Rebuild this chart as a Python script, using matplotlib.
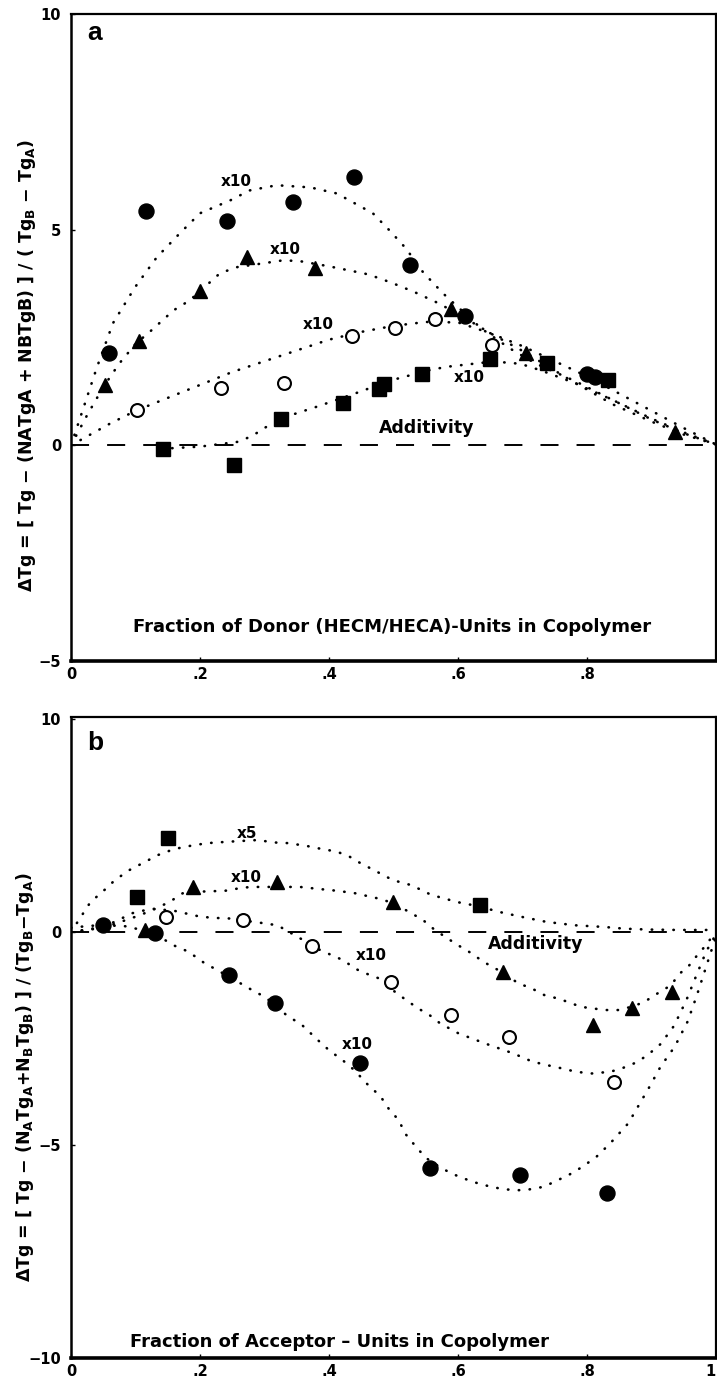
import matplotlib
matplotlib.use("Agg")
import matplotlib.pyplot as plt

plt.rcParams['font.family'] = ['DejaVu Sans']
plt.rcParams['font.weight'] = 'bold'
plt.rcParams['mathtext.fontset'] = 'custom'
plt.rcParams['mathtext.rm'] = 'DejaVu Sans:bold'
plt.rcParams['mathtext.default'] = 'rm'
plt.rcParams['lines.scale_dashes'] = False

# ---------------- Panel a data (fraction of donor units) ----------------
a_filled_x = [0.059, 0.116, 0.242, 0.344, 0.439, 0.526, 0.611, 0.800, 0.812]
a_filled_y = [2.14, 5.43, 5.19, 5.63, 6.21, 4.17, 3.01, 1.66, 1.58]
a_tri_x = [0.053, 0.105, 0.200, 0.273, 0.378, 0.589, 0.706, 0.936]
a_tri_y = [1.39, 2.43, 3.57, 4.36, 4.10, 3.15, 2.14, 0.31]
a_open_x = [0.102, 0.232, 0.331, 0.435, 0.502, 0.564, 0.652]
a_open_y = [0.81, 1.34, 1.45, 2.53, 2.71, 2.94, 2.32]
a_sq_x = [0.143, 0.252, 0.325, 0.421, 0.478, 0.486, 0.544, 0.649, 0.738, 0.832]
a_sq_y = [-0.09, -0.46, 0.60, 0.97, 1.30, 1.42, 1.66, 1.99, 1.91, 1.51]

# dotted fit curves
a_fit_filled_x = [0.0, 0.02, 0.04, 0.065, 0.099, 0.133, 0.169, 0.2, 0.247, 0.277, 0.319, 0.371,
                  0.412, 0.468, 0.494, 0.519, 0.546, 0.577, 0.636, 0.68, 0.72, 0.78, 0.84, 0.9, 0.95, 1.0]
a_fit_filled_y = [0.0, 0.9, 1.8, 2.83, 3.66, 4.36, 4.92, 5.38, 5.68, 5.91, 6.03, 5.98,
                  5.84, 5.38, 4.98, 4.57, 4.01, 3.52, 2.71, 2.25, 1.9, 1.5, 1.05, 0.6, 0.28, 0.02]
a_fit_tri_x = [0.0, 0.025, 0.05, 0.075, 0.1, 0.125, 0.159, 0.184, 0.231, 0.257, 0.298, 0.329, 0.355,
               0.4, 0.433, 0.456, 0.479, 0.507, 0.533, 0.566, 0.6, 0.65, 0.706, 0.77, 0.84, 0.9, 0.95, 1.0]
a_fit_tri_y = [0.0, 0.7, 1.35, 1.9, 2.35, 2.67, 3.13, 3.36, 3.99, 4.13, 4.22, 4.29, 4.27,
               4.15, 4.05, 3.98, 3.87, 3.71, 3.55, 3.32, 3.05, 2.6, 2.14, 1.55, 0.95, 0.55, 0.25, 0.02]
a_fit_open_x = [0.0, 0.03, 0.06, 0.1, 0.15, 0.2, 0.25, 0.3, 0.35, 0.4, 0.45, 0.5, 0.55, 0.6,
                0.65, 0.7, 0.75, 0.8, 0.85, 0.9, 0.95, 1.0]
a_fit_open_y = [0.0, 0.25, 0.5, 0.8, 1.1, 1.4, 1.7, 1.95, 2.2, 2.45, 2.63, 2.77, 2.86, 2.85,
                2.6, 2.3, 1.95, 1.6, 1.2, 0.8, 0.4, 0.02]
a_fit_sq_x = [0.14, 0.2, 0.258, 0.28, 0.302, 0.347, 0.38, 0.44, 0.497, 0.555, 0.582, 0.647, 0.666,
              0.697, 0.728, 0.78, 0.84, 0.9, 0.95, 1.0]
a_fit_sq_y = [-0.08, -0.03, 0.08, 0.21, 0.42, 0.73, 0.89, 1.2, 1.51, 1.74, 1.82, 1.93, 1.93,
              1.89, 1.74, 1.45, 1.05, 0.62, 0.3, 0.02]

# ---------------- Panel b data (fraction of acceptor units) ----------------
b_filled_x = [0.050, 0.130, 0.245, 0.316, 0.448, 0.557, 0.696, 0.831]
b_filled_y = [0.16, -0.03, -1.01, -1.67, -3.08, -5.55, -5.70, -6.13]
b_tri_x = [0.115, 0.189, 0.319, 0.499, 0.670, 0.809, 0.870, 0.932]
b_tri_y = [0.06, 1.06, 1.18, 0.71, -0.93, -2.18, -1.79, -1.40]
b_open_x = [0.148, 0.267, 0.373, 0.496, 0.589, 0.679, 0.842]
b_open_y = [0.35, 0.28, -0.33, -1.17, -1.95, -2.46, -3.51]
b_sq_x = [0.102, 0.151, 0.634]
b_sq_y = [0.83, 2.20, 0.63]

b_fit_sq_x = [0.0, 0.03, 0.055, 0.068, 0.091, 0.115, 0.135, 0.16, 0.19, 0.213, 0.242, 0.288, 0.319,
              0.335, 0.363, 0.389, 0.412, 0.432, 0.445, 0.479, 0.499, 0.528, 0.559, 0.579, 0.597,
              0.634, 0.662, 0.698, 0.737, 0.781, 0.827, 0.858, 0.894, 0.941, 0.988, 1.0]
b_fit_sq_y = [0.0, 0.7, 1.03, 1.22, 1.46, 1.65, 1.81, 1.95, 2.04, 2.09, 2.12, 2.16, 2.1,
              2.09, 2.03, 1.95, 1.89, 1.77, 1.65, 1.38, 1.22, 1.1, 0.87, 0.79, 0.71,
              0.6, 0.48, 0.36, 0.24, 0.16, 0.12, 0.08, 0.06, 0.05, 0.05, 0.0]
b_fit_tri_x = [0.0, 0.05, 0.1, 0.124, 0.153, 0.173, 0.2, 0.239, 0.265, 0.28, 0.355, 0.386, 0.406,
               0.438, 0.476, 0.5, 0.528, 0.546, 0.564, 0.584, 0.6, 0.613, 0.636, 0.652, 0.67,
               0.693, 0.714, 0.734, 0.755, 0.776, 0.789, 0.807, 0.83, 0.848, 0.87, 0.889, 0.905,
               0.93, 0.944, 0.957, 0.969, 0.982, 0.992, 1.0]
b_fit_tri_y = [0.0, 0.1, 0.36, 0.5, 0.71, 0.91, 0.95, 0.97, 1.04, 1.06, 1.06, 1.01, 0.98,
               0.92, 0.79, 0.68, 0.44, 0.28, 0.05, -0.15, -0.31, -0.42, -0.66, -0.81, -0.95,
               -1.2, -1.32, -1.48, -1.56, -1.67, -1.75, -1.79, -1.83, -1.83, -1.75, -1.64, -1.48,
               -1.25, -0.97, -0.81, -0.58, -0.35, -0.15, 0.0]
b_fit_open_x = [0.0, 0.04, 0.068, 0.094, 0.125, 0.16, 0.195, 0.22, 0.24, 0.293, 0.32, 0.35, 0.386,
                0.422, 0.44, 0.45, 0.478, 0.502, 0.52, 0.538, 0.556, 0.572, 0.601, 0.643, 0.686,
                0.715, 0.737, 0.761, 0.783, 0.807, 0.836, 0.854, 0.875, 0.893, 0.914, 0.935,
                0.954, 0.97, 0.985, 1.0]
b_fit_open_y = [0.0, 0.1, 0.24, 0.44, 0.55, 0.5, 0.38, 0.33, 0.33, 0.22, 0.16, -0.1, -0.42,
                -0.66, -0.85, -0.93, -1.09, -1.4, -1.6, -1.79, -1.95, -2.14, -2.38, -2.62, -2.85,
                -3.04, -3.12, -3.2, -3.28, -3.32, -3.28, -3.2, -3.07, -2.9, -2.63, -2.2,
                -1.6, -1.0, -0.45, -0.05]
b_fit_filled_x = [0.0, 0.03, 0.08, 0.11, 0.133, 0.159, 0.182, 0.208, 0.223, 0.245, 0.267, 0.285,
                  0.298, 0.316, 0.334, 0.358, 0.383, 0.402, 0.419, 0.44, 0.458, 0.48, 0.494, 0.508,
                  0.518, 0.537, 0.551, 0.57, 0.59, 0.622, 0.651, 0.672, 0.694, 0.711, 0.733, 0.772,
                  0.793, 0.815, 0.836, 0.864, 0.882, 0.897, 0.914, 0.936, 0.956, 0.97, 0.985, 1.0]
b_fit_filled_y = [0.1, 0.15, 0.15, 0.05, -0.07, -0.31, -0.46, -0.74, -0.86, -1.05, -1.24, -1.4,
                  -1.5, -1.7, -1.95, -2.18, -2.54, -2.8, -2.98, -3.25, -3.55, -3.86, -4.18, -4.41,
                  -4.73, -5.08, -5.31, -5.5, -5.67, -5.86, -5.98, -6.04, -6.06, -6.04, -5.98, -5.7,
                  -5.51, -5.27, -4.96, -4.49, -4.02, -3.63, -3.16, -2.69, -2.1, -1.5, -0.8, -0.1]

x_ticks = [0, 0.2, 0.4, 0.6, 0.8, 1.0]
a_xtick_labels = ['0', '.2', '.4', '.6', '.8', '']
b_xtick_labels = ['0', '.2', '.4', '.6', '.8', '1']
a_yticks = [-5, 0, 5, 10]
a_ytick_labels = ['\u22125', '0', '5', '10']
b_yticks = [-10, -5, 0, 5]
b_ytick_labels = ['\u221210', '\u22125', '0', '10']

W, H = 717, 1379
fig = plt.figure(figsize=(W / 100, H / 100), dpi=100)
axA = fig.add_axes([71 / W, 1 - 661 / H, 645 / W, 647 / H])
axB = fig.add_axes([71 / W, 1 - 1358 / H, 645 / W, 641 / H])

dot_style = dict(color='black', linestyle=(0, (0.3, 7.5)), lw=1.9,
                 dash_capstyle='round', solid_capstyle='round', zorder=2)
mk_filled = dict(marker='o', ms=10.8, color='black', linestyle='none', zorder=4)
mk_tri = dict(marker='^', ms=10.5, color='black', linestyle='none', zorder=4)
mk_open = dict(marker='o', ms=9.3, mfc='white', mec='black', mew=1.5, linestyle='none', zorder=4)
mk_sq = dict(marker='s', ms=10.0, color='black', linestyle='none', zorder=4)


def style_axes(ax, ylim, yticks, ylabels, xlabels):
    ax.set_xlim(0, 1)
    ax.set_ylim(*ylim)
    ax.set_xticks(x_ticks)
    ax.set_xticklabels(xlabels, fontsize=10.5, fontweight='bold')
    ax.set_yticks(yticks)
    ax.set_yticklabels(ylabels, fontsize=10.5, fontweight='bold')
    ax.tick_params(axis='x', direction='in', length=3, width=1, pad=4)
    ax.tick_params(axis='y', direction='in', length=3, width=1, pad=7)
    ax.spines['bottom'].set_linewidth(2.6)
    ax.spines['left'].set_linewidth(1.8)
    ax.spines['top'].set_linewidth(1.6)
    ax.spines['right'].set_linewidth(1.6)
    ax.axhline(0, color='black', lw=1.4, linestyle=(0, (13, 13)), zorder=1)


# ---------------- panel a ----------------
style_axes(axA, (-5, 10), a_yticks, a_ytick_labels, a_xtick_labels)
for fx, fy in [(a_fit_filled_x, a_fit_filled_y), (a_fit_tri_x, a_fit_tri_y),
               (a_fit_open_x, a_fit_open_y), (a_fit_sq_x, a_fit_sq_y)]:
    axA.plot(fx, fy, **dot_style)
axA.plot(a_filled_x, a_filled_y, **mk_filled)
axA.plot(a_tri_x, a_tri_y, **mk_tri)
axA.plot(a_open_x, a_open_y, **mk_open)
axA.plot(a_sq_x, a_sq_y, **mk_sq)

axA.text(0.037, 0.970, 'a', transform=axA.transAxes, fontsize=19, fontweight='bold',
         ha='center', va='center', family=['Liberation Sans', 'DejaVu Sans'])
lab = dict(fontsize=11, fontweight='bold', ha='center', va='center', zorder=5)
axA.text(0.256, 6.12, 'x10', **lab)
axA.text(0.332, 4.54, 'x10', **lab)
axA.text(0.383, 2.80, 'x10', **lab)
axA.text(0.618, 1.58, 'x10', **lab)
axA.text(0.551, 0.40, 'Additivity', fontsize=12.5, fontweight='bold', ha='center', va='center')
axA.text(0.497, -4.21, 'Fraction of Donor (HECM/HECA)-Units in Copolymer',
         fontsize=13, fontweight='bold', ha='center', va='center')

# ---------------- panel b ----------------
style_axes(axB, (-10, 5.05), b_yticks, b_ytick_labels, b_xtick_labels)
axB.get_xticklabels()[-1].set_horizontalalignment('right')
for fx, fy in [(b_fit_sq_x, b_fit_sq_y), (b_fit_tri_x, b_fit_tri_y),
               (b_fit_open_x, b_fit_open_y), (b_fit_filled_x, b_fit_filled_y)]:
    axB.plot(fx, fy, **dot_style)
axB.plot(b_filled_x, b_filled_y, **mk_filled)
axB.plot(b_tri_x, b_tri_y, **mk_tri)
axB.plot(b_open_x, b_open_y, **mk_open)
axB.plot(b_sq_x, b_sq_y, **mk_sq)

axB.text(0.037, 0.960, 'b', transform=axB.transAxes, fontsize=19, fontweight='bold',
         ha='center', va='center', family=['Liberation Sans', 'DejaVu Sans'])
axB.text(0.273, 2.31, 'x5', **lab)
axB.text(0.272, 1.28, 'x10', **lab)
axB.text(0.466, -0.54, 'x10', **lab)
axB.text(0.444, -2.65, 'x10', **lab)
axB.text(0.721, -0.27, 'Additivity', fontsize=12.5, fontweight='bold', ha='center', va='center')
axB.text(0.416, -9.62, 'Fraction of Acceptor \u2013 Units in Copolymer',
         fontsize=13, fontweight='bold', ha='center', va='center')

# y-axis labels
fig.text(27 / W, 1 - 366 / H,
         '\u0394Tg = [ Tg \u2212 (NATgA + NBTgB) ] / ( Tg$_{B}$ \u2212 Tg$_{A}$)',
         rotation=90, fontsize=12.5, fontweight='bold', ha='center', va='center')
fig.text(25 / W, 1 - 1077 / H,
         '\u0394Tg = [ Tg \u2212 (N$_{A}$Tg$_{A}$+N$_{B}$Tg$_{B}$) ] / (Tg$_{B}$\u2212Tg$_{A}$)',
         rotation=90, fontsize=12.5, fontweight='bold', ha='center', va='center')

fig.savefig('out.png', dpi=100)
